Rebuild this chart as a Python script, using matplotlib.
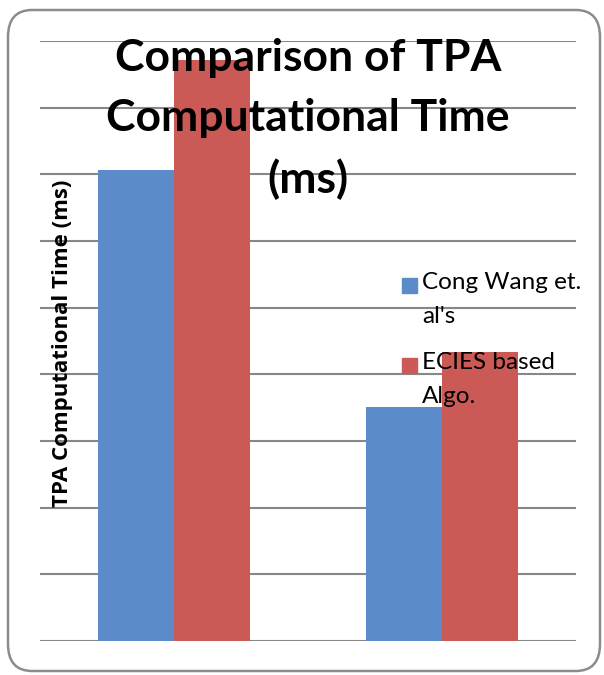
import matplotlib.pyplot as plt
from matplotlib.patches import FancyBboxPatch, Rectangle
import numpy as np

categories = ['Group 1', 'Group 2']
series_names = ["Cong Wang et.\nal's", "ECIES based\nAlgo."]
cong_wang = [706, 351]
ecies = [871, 433]
colors = ['#5B8BC8', '#CB5A56']

plt.rcParams['font.family'] = ['Lato', 'DejaVu Sans']

fig = plt.figure(figsize=(6.04, 6.75), dpi=100)
ax = fig.add_axes([40 / 604, 34 / 675, 536 / 604, 600 / 675])

x = np.arange(len(categories))
w = 0.285
ax.bar(x - w / 2, cong_wang, w, color=colors[0], zorder=2)
ax.bar(x + w / 2, ecies, w, color=colors[1], zorder=2)

ax.set_xlim(-0.5, 1.5)
ax.set_ylim(0, 900)
ax.set_yticks(np.arange(0, 901, 100))
ax.yaxis.grid(True, color='#878787', linewidth=1.5, zorder=0)
ax.tick_params(left=False, bottom=False, labelleft=False, labelbottom=False)
for s in ax.spines.values():
    s.set_visible(False)

# title (drawn over the bars, like the original)
fig.text(308 / 604, 1 - 38 / 675, 'Comparison of TPA\nComputational Time\n(ms)',
         ha='center', va='top', fontsize=32, fontweight='bold',
         linespacing=1.6, zorder=5)

fig.text(63 / 604, 1 - 343 / 675, 'TPA Computational Time (ms)', rotation=90,
         ha='center', va='center', fontsize=16, fontweight='bold',
         family=['Open Sans', 'DejaVu Sans'])

# legend
for i, (name, c) in enumerate(zip(series_names, colors)):
    ytop = 278 + i * 80
    fig.patches.append(Rectangle((402 / 604, 1 - (ytop + 15) / 675), 15 / 604, 15 / 675,
                                 transform=fig.transFigure, color=c, zorder=5))
    fig.text(422 / 604, 1 - (ytop - 6) / 675, name, ha='left', va='top',
             fontsize=17.5, linespacing=1.75, zorder=5)

# rounded frame
fig.patches.append(FancyBboxPatch((8 / 604, 4 / 675), 592 / 604, 661 / 675,
                                  boxstyle='round,pad=0,rounding_size=0.04',
                                  transform=fig.transFigure, fill=False,
                                  edgecolor='#8C8C8C', linewidth=1.8))

fig.savefig('out.png', dpi=100)
